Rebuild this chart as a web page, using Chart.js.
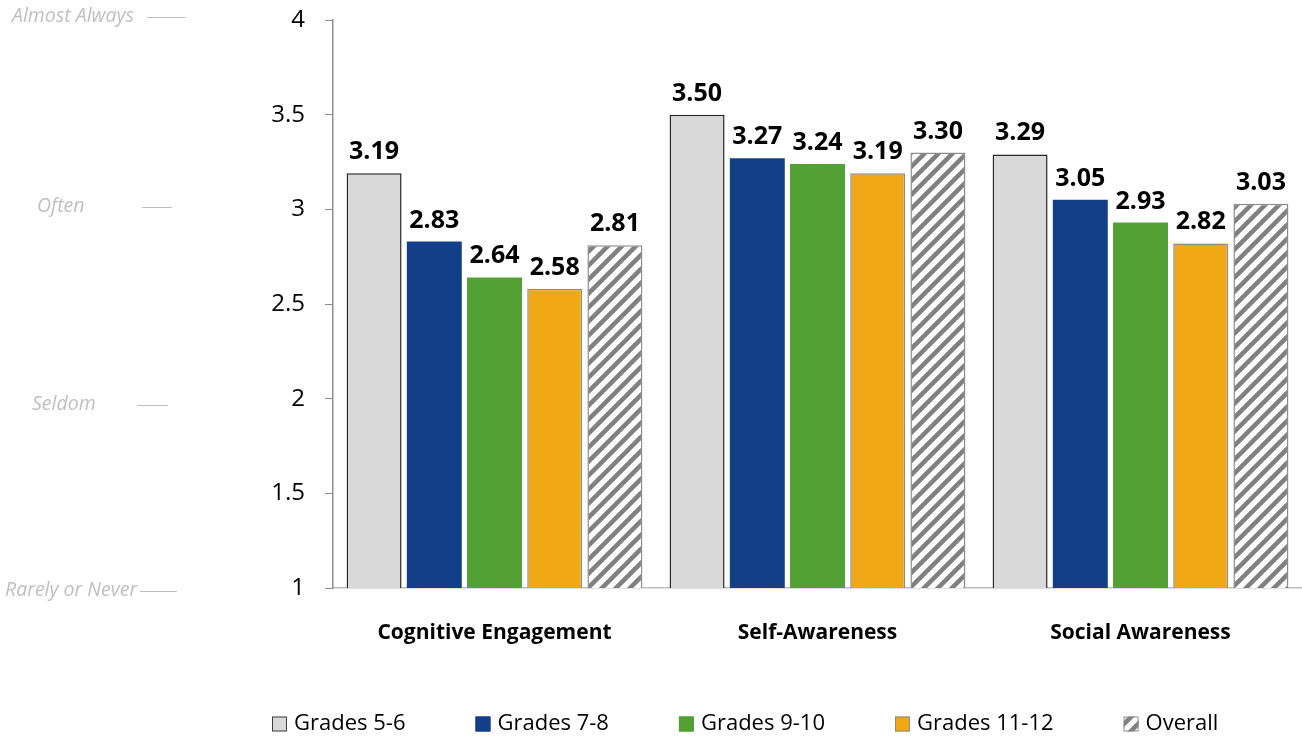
<!DOCTYPE html>
<html lang="en">
<head>
    <meta charset="UTF-8">
    <title>Student Survey Scores by Grade Band</title>
    <script src="https://cdn.jsdelivr.net/npm/chart.js"></script>
    <style>
        body { margin: 0; background: #fff; }
        #wrap { width: 1302px; height: 741px; }
    </style>
</head>
<body>
    <div id="wrap">
        <canvas id="scoreChart" width="1302" height="741"></canvas>
    </div>

    <script>
        const categories = ['Cognitive Engagement', 'Self-Awareness', 'Social Awareness'];
        const seriesNames = ['Grades 5-6', 'Grades 7-8', 'Grades 9-10', 'Grades 11-12', 'Overall'];

        const grades56 = [3.19, 3.50, 3.29];
        const grades78 = [2.83, 3.27, 3.05];
        const grades910 = [2.64, 3.24, 2.93];
        const grades1112 = [2.58, 3.19, 2.82];
        const overall = [2.81, 3.30, 3.03];

        const yTicks = [1, 1.5, 2, 2.5, 3, 3.5, 4];

        const scaleLevels = ['Almost Always', 'Often', 'Seldom', 'Rarely or Never'];
        const scaleLevelValues = [4, 3, 2, 1];

        const FONT = '"Open Sans", sans-serif';

        // diagonal stripes for the Overall bars
        function makeHatch() {
            const size = 14;
            const c = document.createElement('canvas');
            c.width = size;
            c.height = size;
            const g = c.getContext('2d');
            g.fillStyle = '#ffffff';
            g.fillRect(0, 0, size, size);
            g.strokeStyle = '#808080';
            g.lineWidth = 4.5;
            g.beginPath();
            g.moveTo(-size / 2, size / 2); g.lineTo(size / 2, -size / 2);
            g.moveTo(0, size); g.lineTo(size, 0);
            g.moveTo(size / 2, size * 1.5); g.lineTo(size * 1.5, size / 2);
            g.stroke();
            return g.createPattern(c, 'repeat');
        }
        const hatch = makeHatch();

        const seriesValues = [grades56, grades78, grades910, grades1112, overall];
        const fills = ['#d9d9d9', '#133f88', '#53a035', '#f0a914', hatch];
        const borders = ['#262626', '#133f88', '#53a035', '#8c8c8c', '#8c8c8c'];
        const borderWidths = [1.5, 0, 0, 1.5, 1.5];

        const datasets = seriesNames.map((name, i) => ({
            label: name,
            data: seriesValues[i],
            backgroundColor: fills[i],
            borderColor: borders[i],
            borderWidth: borderWidths[i],
            categoryPercentage: 0.932,
            barPercentage: 0.913
        }));

        // value labels above each bar
        const valueLabels = {
            id: 'valueLabels',
            afterDatasetsDraw(chart) {
                const ctx = chart.ctx;
                ctx.save();
                ctx.font = 'bold 25px ' + FONT;
                ctx.fillStyle = '#000';
                ctx.textAlign = 'center';
                ctx.textBaseline = 'alphabetic';
                chart.data.datasets.forEach((ds, i) => {
                    chart.getDatasetMeta(i).data.forEach((bar, j) => {
                        ctx.fillText(ds.data[j].toFixed(2), bar.x, bar.y - 14);
                    });
                });
                ctx.restore();
            }
        };

        // frequency wording down the left side
        const levelLayout = [
            { textX: 12, lineX1: 147, lineX2: 186, dy: -3 },
            { textX: 37, lineX1: 142, lineX2: 172, dy: -2 },
            { textX: 32, lineX1: 137, lineX2: 168, dy: 6 },
            { textX: 5, lineX1: 140, lineX2: 177, dy: 3 }
        ];
        const levelNotes = {
            id: 'levelNotes',
            afterDraw(chart) {
                const ctx = chart.ctx;
                const y = chart.scales.y;
                ctx.save();
                ctx.font = 'italic 19.5px ' + FONT;
                ctx.fillStyle = '#bfbfbf';
                ctx.strokeStyle = '#bfbfbf';
                ctx.lineWidth = 1;
                ctx.textAlign = 'left';
                ctx.textBaseline = 'middle';
                scaleLevels.forEach((txt, i) => {
                    const L = levelLayout[i];
                    const py = Math.round(y.getPixelForValue(scaleLevelValues[i]) + L.dy);
                    ctx.fillText(txt, L.textX, py - 1);
                    ctx.beginPath();
                    ctx.moveTo(L.lineX1, py + 0.5);
                    ctx.lineTo(L.lineX2, py + 0.5);
                    ctx.stroke();
                });
                ctx.restore();
            }
        };

        // legend row along the bottom
        const bottomLegend = {
            id: 'bottomLegend',
            afterDraw(chart) {
                const ctx = chart.ctx;
                ctx.save();
                ctx.font = '22px ' + FONT;
                ctx.textAlign = 'left';
                ctx.textBaseline = 'middle';
                let x = 272;
                const cy = 724;
                chart.data.datasets.forEach((ds, i) => {
                    ctx.fillStyle = ds.backgroundColor;
                    ctx.fillRect(x, cy - 7.5, 15, 15);
                    ctx.strokeStyle = i === 0 ? '#404040' : ds.borderColor;
                    ctx.lineWidth = 1;
                    ctx.strokeRect(x + 0.5, cy - 7, 14, 14);
                    ctx.fillStyle = '#000';
                    ctx.fillText(ds.label, x + 22, cy);
                    x += 22 + ctx.measureText(ds.label).width + 70;
                });
                ctx.restore();
            }
        };

        const ctx = document.getElementById('scoreChart').getContext('2d');
        const scoreChart = new Chart(ctx, {
            type: 'bar',
            data: {
                labels: categories,
                datasets: datasets
            },
            options: {
                responsive: false,
                animation: false,
                devicePixelRatio: 1,
                layout: {
                    padding: { top: 20, right: 0, bottom: 0, left: 0 }
                },
                plugins: {
                    legend: { display: false },
                    tooltip: { enabled: false }
                },
                scales: {
                    x: {
                        grid: { display: false, drawTicks: false },
                        border: { display: true, color: '#bfbfbf', width: 1.5 },
                        ticks: {
                            color: '#000',
                            padding: 32,
                            font: { family: FONT, size: 21, weight: 'bold' }
                        },
                        afterFit(scale) { scale.height = 153; }
                    },
                    y: {
                        min: yTicks[0],
                        max: yTicks[yTicks.length - 1],
                        grid: {
                            drawOnChartArea: false,
                            drawTicks: true,
                            tickLength: 8,
                            color: '#8c8c8c'
                        },
                        border: { display: true, color: '#8c8c8c', width: 1.5 },
                        afterBuildTicks(scale) {
                            scale.ticks = yTicks.map(v => ({ value: v }));
                        },
                        ticks: {
                            color: '#000',
                            padding: 20,
                            font: { family: FONT, size: 24 },
                            callback: (v) => String(v)
                        },
                        afterFit(scale) {
                            scale.width = 333;
                            scale.paddingTop = 0;
                            scale.paddingBottom = 0;
                        }
                    }
                }
            },
            plugins: [valueLabels, levelNotes, bottomLegend]
        });
    </script>
</body>
</html>
